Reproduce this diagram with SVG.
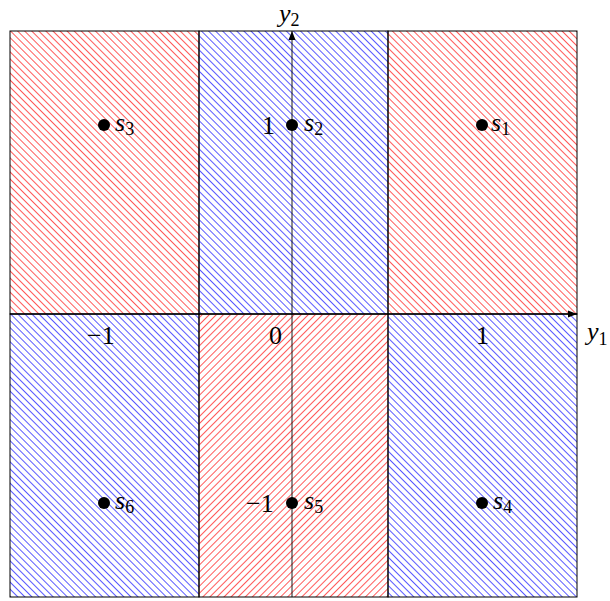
<svg xmlns="http://www.w3.org/2000/svg" width="610" height="601" viewBox="0 0 610 601">
<style>
.cell{stroke:#000;stroke-width:1}
.ax{stroke:#000;stroke-width:0.9;fill:none}
.t{font-family:"Liberation Serif","DejaVu Serif",serif;font-size:26px;fill:#000}
.i{font-style:italic}
.sub{font-size:18px}
.dot{fill:#000}
</style>
<defs>
<pattern id="nwR" patternUnits="userSpaceOnUse" width="5" height="5" patternTransform="rotate(-45)"><line x1="0" y1="0" x2="0" y2="5" stroke="#f00" stroke-width="1.3"/></pattern>
<pattern id="nwB" patternUnits="userSpaceOnUse" width="5" height="5" patternTransform="rotate(-45)"><line x1="0" y1="0" x2="0" y2="5" stroke="#00f" stroke-width="1.3"/></pattern>
<pattern id="neR" patternUnits="userSpaceOnUse" width="5" height="5" patternTransform="rotate(45)"><line x1="0" y1="0" x2="0" y2="5" stroke="#f00" stroke-width="1.3"/></pattern>
<marker id="arr" markerWidth="10" markerHeight="8" refX="9" refY="4" orient="auto" markerUnits="userSpaceOnUse"><path d="M0,0.5 L9,4 L0,7.5 z" fill="#000"/></marker>
</defs>
<g id="cells">
<rect class="cell" x="10" y="31" width="189" height="283" fill="url(#nwR)"/>
<rect class="cell" x="199" y="31" width="189" height="283" fill="url(#nwB)"/>
<rect class="cell" x="388" y="31" width="189" height="283" fill="url(#nwR)"/>
<rect class="cell" x="10" y="314" width="189" height="283" fill="url(#nwB)"/>
<rect class="cell" x="199" y="314" width="189" height="283" fill="url(#neR)"/>
<rect class="cell" x="388" y="314" width="189" height="283" fill="url(#nwB)"/>
</g>
<g id="connectors">
<line class="ax" x1="10" y1="314" x2="577" y2="314" marker-end="url(#arr)"/>
<line class="ax" x1="292" y1="597" x2="292" y2="31" marker-end="url(#arr)"/>
</g>
<g id="axis-labels">
<text class="t i" x="279" y="22">y<tspan class="sub" font-style="normal" dy="4">2</tspan></text>
<text class="t i" x="587" y="340">y<tspan class="sub" font-style="normal" dy="5">1</tspan></text>
<text class="t" x="87" y="344">−1</text>
<text class="t" x="269" y="344">0</text>
<text class="t" x="476" y="344">1</text>
<text class="t" x="262" y="134">1</text>
<text class="t" x="246" y="512">−1</text>
</g>
<g id="s1"><circle class="dot" cx="482" cy="125" r="6"/><text class="t i" x="491" y="131">s<tspan class="sub" font-style="normal" dy="4">1</tspan></text></g>
<g id="s2"><circle class="dot" cx="292" cy="125" r="6"/><text class="t i" x="304" y="131">s<tspan class="sub" font-style="normal" dy="4">2</tspan></text></g>
<g id="s3"><circle class="dot" cx="104" cy="125" r="6"/><text class="t i" x="115" y="131">s<tspan class="sub" font-style="normal" dy="4">3</tspan></text></g>
<g id="s4"><circle class="dot" cx="482" cy="503" r="6"/><text class="t i" x="493" y="509">s<tspan class="sub" font-style="normal" dy="4">4</tspan></text></g>
<g id="s5"><circle class="dot" cx="292" cy="503" r="6"/><text class="t i" x="304" y="509">s<tspan class="sub" font-style="normal" dy="4">5</tspan></text></g>
<g id="s6"><circle class="dot" cx="104" cy="503" r="6"/><text class="t i" x="115" y="509">s<tspan class="sub" font-style="normal" dy="4">6</tspan></text></g>
</svg>
